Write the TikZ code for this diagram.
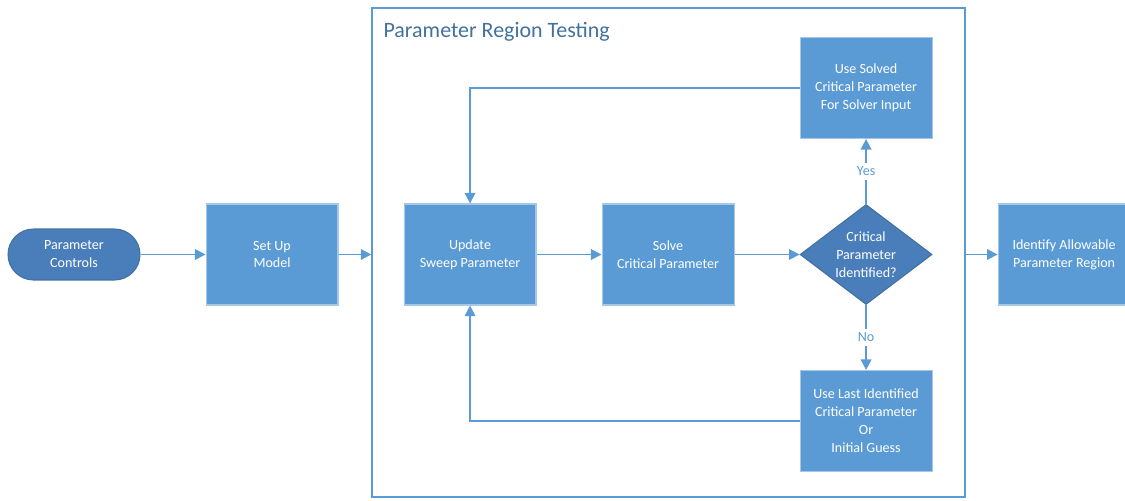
\documentclass[tikz,border=0pt]{standalone}
\usepackage{fontspec}
\setmainfont{Carlito}
\usepackage{xcolor}
\usepackage{tikz}
\usetikzlibrary{arrows.meta,positioning,shapes.geometric}

\definecolor{boxblue}{HTML}{5B9BD5}
\definecolor{darkblue}{HTML}{4A7EBB}
\definecolor{edgeblue}{HTML}{41719C}

\begin{document}
\begin{tikzpicture}[
    x=0.02cm, y=-0.02cm,
    node distance=1.30cm,
    txt/.style={font=\fontsize{8}{10.2}\selectfont, text=white, align=center},
    box/.style={rectangle, txt, fill=boxblue, draw=boxblue!55!white, line width=0.6pt, minimum width=2.64cm, minimum height=2.02cm},
    terminal/.style={rectangle, rounded corners=0.51cm, txt, fill=darkblue, draw=edgeblue, line width=0.6pt, minimum width=2.64cm, minimum height=1.02cm},
    decision/.style={diamond, aspect=1.32, inner sep=0pt, txt, fill=darkblue, draw=edgeblue, line width=0.6pt, minimum width=2.64cm, minimum height=2.0cm},
    frame/.style={rectangle, draw=boxblue, line width=0.8pt, minimum width=11.86cm, minimum height=9.78cm},
    flow/.style={draw=boxblue, line width=1pt, -{Triangle[length=6pt,width=6pt]}},
    answer/.style={font=\fontsize{8}{10}\selectfont, text=boxblue, fill=white, inner sep=2pt}
]
    \clip (0,0) rectangle (1125,500);

    % Testing region
    \node[frame] (region) at (668.5,252.5) {};
    \node[anchor=north west, text=edgeblue, font=\fontsize{12.5}{14}\selectfont] (title) at ([xshift=0.12cm,yshift=-0.18cm]region.north west) {Parameter Region Testing};

    % Main row
    \node[terminal] (start) at (74,254.5) {Parameter\\Controls};
    \node[box, right=of start] (setup) {Set Up\\Model};
    \node[box, right=of setup] (update) {Update\\Sweep Parameter};
    \node[box, right=of update] (solve) {Solve\\Critical Parameter};
    \node[decision, right=of solve] (check) {Critical\\Parameter\\Identified?};
    \node[box, right=of check] (allow) {Identify Allowable\\Parameter Region};

    % Branches
    \node[box, above=of check] (solved) {Use Solved\\Critical Parameter\\For Solver Input};
    \node[box, below=of check] (last) {Use Last Identified\\Critical Parameter\\Or\\Initial Guess};

    % Connectors
    \draw[flow] (start) -- (setup);
    \draw[flow] (setup.east) -- (setup.east -| region.west);
    \draw[flow] (region.east |- allow.west) -- (allow.west);
    \draw[flow] (update) -- (solve);
    \draw[flow] (solve) -- (check);
    \draw[flow] (check) -- node[answer] {Yes} (solved);
    \draw[flow] (check) -- node[answer] {No} (last);
    \draw[flow] (solved.west) -| (update.north);
    \draw[flow] (last.west) -| (update.south);
\end{tikzpicture}
\end{document}
